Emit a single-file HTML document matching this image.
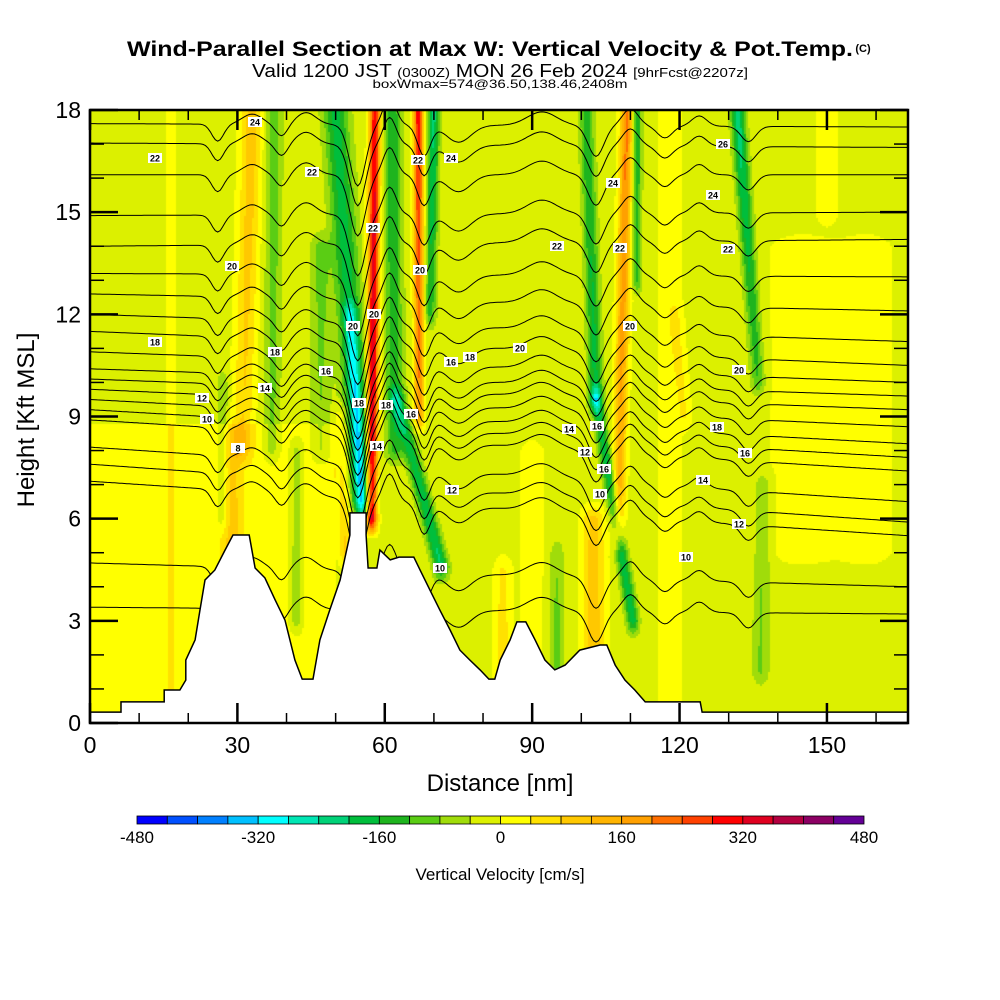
<!DOCTYPE html>
<html><head><meta charset="utf-8">
<style>
html,body{margin:0;padding:0;background:#fff;width:1000px;height:1000px;overflow:hidden}
#wrap{position:relative;width:1000px;height:1000px}
canvas{position:absolute;left:90px;top:110px}
svg{position:absolute;left:0;top:0}
text{font-family:"Liberation Sans",sans-serif}
</style></head>
<body>
<div id="wrap">
<canvas id="field" width="818" height="613"></canvas>
<svg id="ov" width="1000" height="1000">
  <text x="490" y="56" text-anchor="middle" font-size="21" font-weight="bold" textLength="726" lengthAdjust="spacingAndGlyphs">Wind-Parallel Section at Max W: Vertical Velocity &amp; Pot.Temp.</text>
  <text x="863" y="52" text-anchor="middle" font-size="11" font-weight="bold">(C)</text>
  <text x="252" y="77" font-size="18" textLength="496" lengthAdjust="spacingAndGlyphs">Valid 1200 JST <tspan font-size="13">(0300Z)</tspan> MON 26 Feb 2024 <tspan font-size="13">[9hrFcst@2207z]</tspan></text>
  <text x="500" y="88" text-anchor="middle" font-size="12" textLength="255" lengthAdjust="spacingAndGlyphs">boxWmax=574@36.50,138.46,2408m</text>
  <g id="contours"></g>
  <g id="labels"></g>
  <g id="terrain"></g>
  <g id="axes"></g>
  <text x="500" y="791" text-anchor="middle" font-size="24">Distance [nm]</text>
  <text transform="translate(34,420) rotate(-90)" text-anchor="middle" font-size="24">Height [Kft MSL]</text>
  <g id="cbar"></g>
  <text x="500" y="880" text-anchor="middle" font-size="17">Vertical Velocity [cm/s]</text>
</svg>
</div>
<script>
// ---- data ----
const levelColors=['#0000ff','#0050ff','#0080ff','#00c0ff','#00ffff','#00e6b4','#00d278','#00be3c','#1eb41e','#5acd14','#a0dc0a','#dcf000','#ffff00','#ffe100','#ffc800','#ffb400','#ffa000','#ff6e00','#ff4100','#ff0000','#e00020','#b40040','#8c0064','#640096'];
const cbarTicks=[-480,-320,-160,0,160,320,480];
const xTicks=[0,30,60,90,120,150];
const yTicks=[0,3,6,9,12,15,18];
// vertical-velocity streak features (nm, kft, cm/s)
const streakBotX=[55.4,55.5,57.3,67.0,62.0,71.5,69.3,37,31,29,52,107.5,102.5,103,110.5,111.3,136,95,136.5,16.5,150,121,84,47,27,42,118,90,145,158];
const streakBotH=[6.2,6.5,6.0,9.0,8,4.6,12,8,8,4,5,5.5,1,9.5,3.0,13,10,1.5,1.5,0,15,9,1.5,8,6,3,0,0,5,5];
const streakTopX=[53.0,50,58,66.8,61.5,62.5,70.0,37.5,33,29,51,109.3,102.5,101,103,111.3,131.8,95,137,16.5,150,119,84,47,27,42,118,90,145,158];
const streakTopH=[12,18,18,18,18,9.5,18,18,18,8.5,9,18,6,18,9.5,18,18,5,7,18,18,12,4.5,14,10,8,18,8,14,14];
const streakBotAmp=[-160,-170,400,200,-120,-190,-120,-70,90,90,100,150,130,-160,-170,-120,-110,-90,-70,25,50,50,80,-60,-60,-80,30,30,35,35];
const streakTopAmp=[-130,-160,330,320,-140,-150,-200,-90,120,60,60,230,110,-130,-160,-140,-210,-60,-60,25,50,50,60,-80,-60,-70,30,30,35,35];
const streakSigma=[0.9,1.8,0.8,0.7,1.3,1.1,0.8,1.2,1.5,1.5,1.0,0.9,1.6,1.0,0.9,0.7,1.0,1.0,1.2,1.1,1.5,1.0,1.2,1.5,0.8,1.0,2,2,5,4];
// potential temperature isentropes (kft at left / right edge)
const thetaLeft=[17.6,17.03,16.1,14.9,14.0,13.2,12.6,12.0,11.5,10.9,10.4,10.1,9.8,9.5,9.2,8.9,8.1,7.6,7.1,4.7,3.4];
const thetaRight=[17.5,16.9,16.1,15.0,14.2,13.1,12.1,11.2,10.5,10.0,9.6,9.2,8.7,8.2,7.8,7.4,6.5,5.9,5.5,4.0,3.2];
const waveX=[26,33,39,44,54.5,61,68,75,92,103,110,117,124,134];
const waveAmp=[-0.5,0.3,-0.35,0.35,-1.8,0.8,-0.9,-0.5,0.4,-0.9,0.5,-0.35,0.3,-0.45];
const waveSig=[1.2,2,1.2,2,1.6,1.3,1.3,2.5,3,1.6,1.6,1.5,1.5,1.5];
// terrain profile
const terrainX=[0,6.3,6.3,15.1,15.1,18.3,19.5,19.5,21.4,22.4,23.4,25.4,27.5,29.1,32.4,33.6,35.6,37.7,39.7,41.7,43.2,45.4,46.8,48.8,50.9,52.9,52.9,56.2,56.2,56.6,58.4,59.0,61.1,62.9,65.9,67.2,69.2,71.2,73.3,75.3,77.3,79.4,81.2,82.4,83.5,85.5,86.9,88.7,90.6,92.6,94.6,96.7,99.7,103.8,105.2,106.9,108.9,110.9,113.0,124.2,124.6,166.5];
const terrainH=[0.32,0.32,0.62,0.62,0.97,0.97,1.26,1.85,2.44,3.32,4.20,4.49,5.08,5.52,5.52,4.55,4.26,3.61,3.02,1.85,1.29,1.29,2.44,3.32,4.20,5.52,6.17,6.17,5.52,4.55,4.55,5.08,4.79,4.87,4.87,4.49,3.90,3.32,2.73,2.14,1.85,1.56,1.29,1.29,1.85,2.44,2.97,2.97,2.44,1.85,1.56,1.70,2.14,2.29,2.29,1.70,1.26,0.97,0.62,0.62,0.32,0.32];
const labelText=['22','24','22','20','18','18','16','14','12','10','8','22','20','20','18','18','16','16','18','14','12','22','24','20','12','10','20','22','24','22','20','26','24','22','20','18','16','14','12','10','14','12','16','16','10'];
const labelX=[155,255,312,232,155,275,326,265,202,207,238,373,374,353,359,386,411,451,470,377,452,418,451,420,452,440,520,557,613,620,630,723,713,728,739,717,745,703,739,686,569,585,597,604,600];
const labelY=[158,122,172,266,342,352,371,388,398,419,448,228,314,326,403,405,414,362,357,446,490,160,158,270,490,568,348,246,183,248,326,144,195,249,370,427,453,480,524,557,429,452,426,469,494];

// ---- scales ----
const X0=90,X1=908,Y0=723,Y1=110,NMAX=166.5,KMAX=18;
const xs=nm=>X0+(X1-X0)*nm/NMAX;
const ys=k=>Y0-(Y0-Y1)*k/KMAX;
const NS='http://www.w3.org/2000/svg';
function mk(tag,attrs,parent){const e=document.createElementNS(NS,tag);for(const k in attrs)e.setAttribute(k,attrs[k]);parent.appendChild(e);return e;}

// ---- field ----
function wAt(nm,k){
  let w=-15;
  if(k<8.8&&nm<50)w=20;
  for(let i=0;i<streakBotX.length;i++){
    const h0=streakBotH[i],h1=streakTopH[i];
    if(k<h0-0.6||k>h1+0.6)continue;
    let t=(k-h0)/(h1-h0);t=Math.max(0,Math.min(1,t));
    let fade=1;if(k<h0)fade=1-(h0-k)/0.6;else if(k>h1)fade=1-(k-h1)/0.6;
    const xc=streakBotX[i]+(streakTopX[i]-streakBotX[i])*t;
    const a=streakBotAmp[i]+(streakTopAmp[i]-streakBotAmp[i])*t;
    const d=(nm-xc)/streakSigma[i];
    w+=a*Math.exp(-0.5*d*d)*fade;
  }
  return w;
}
(function(){
  const cv=document.getElementById('field'),ctx=cv.getContext('2d');
  const W=cv.width,H=cv.height,img=ctx.createImageData(W,H);
  const rgb=levelColors.map(c=>[parseInt(c.substr(1,2),16),parseInt(c.substr(3,2),16),parseInt(c.substr(5,2),16)]);
  for(let py=0;py<H;py+=2){
    const k=KMAX*(1-(py+1)/H);
    for(let px=0;px<W;px+=2){
      const nm=NMAX*(px+1)/W;
      let idx=Math.floor(wAt(nm,k)/40)+12;idx=Math.max(0,Math.min(23,idx));
      const c=rgb[idx];
      for(let dy=0;dy<2&&py+dy<H;dy++)for(let dx=0;dx<2&&px+dx<W;dx++){
        const o=((py+dy)*W+px+dx)*4;img.data[o]=c[0];img.data[o+1]=c[1];img.data[o+2]=c[2];img.data[o+3]=255;}
    }
  }
  ctx.putImageData(img,0,0);
})();

// ---- contours ----
(function(){
  const g=document.getElementById('contours');
  for(let i=0;i<thetaLeft.length;i++){
    let pts=[];
    for(let nm=0;nm<=NMAX;nm+=0.5){
      let k=thetaLeft[i]+(thetaRight[i]-thetaLeft[i])*nm/NMAX;
      for(let j=0;j<waveX.length;j++){const d=(nm-waveX[j])/waveSig[j];k+=waveAmp[j]*Math.exp(-0.5*d*d);}
      k=Math.min(KMAX,Math.max(0,k));
      pts.push(xs(nm).toFixed(1)+','+ys(k).toFixed(1));
    }
    const p=mk('polyline',{points:pts.join(' '),fill:'none',stroke:'#000','stroke-width':1},g);
    
    
  }
  const lg=document.getElementById('labels');
  for(let i=0;i<labelText.length;i++){
    const r=mk('rect',{x:labelX[i]-7,y:labelY[i]-5,width:14,height:10,fill:'#fff'},lg);
    
    
    const t=mk('text',{x:labelX[i],y:labelY[i]+3.5,'text-anchor':'middle','font-size':9,'font-weight':'bold'},lg);
    
    
    t.textContent=labelText[i];
  }
})();

// ---- terrain ----
(function(){
  const g=document.getElementById('terrain');
  let d='M'+xs(0)+','+Y0;
  for(let i=0;i<terrainX.length;i++)d+=' L'+xs(terrainX[i]).toFixed(1)+','+ys(terrainH[i]).toFixed(1);
  d+=' L'+X1+','+Y0+' Z';
  const p=mk('path',{d:d,fill:'#fff',stroke:'#000','stroke-width':1.5},g);
  
  
})();

// ---- axes ----
(function(){
  const g=document.getElementById('axes');
  const b=mk('rect',{x:X0,y:Y1,width:X1-X0,height:Y0-Y1,fill:'none',stroke:'#000','stroke-width':2.5},g);
  
  
  for(let nm=0;nm<=160;nm+=10){
    const L=(nm%30===0)?20:10,x=xs(nm);
    mk('line',{x1:x,y1:Y0,x2:x,y2:Y0-L,stroke:'#000','stroke-width':nm%30===0?2.5:1.5},g);
    mk('line',{x1:x,y1:Y1,x2:x,y2:Y1+L,stroke:'#000','stroke-width':nm%30===0?2.5:1.5},g);
  }
  for(let k=0;k<=18;k++){
    const L=(k%3===0)?28:14,y=ys(k);
    mk('line',{x1:X0,y1:y,x2:X0+L,y2:y,stroke:'#000','stroke-width':k%3===0?2.5:1.5},g);
    mk('line',{x1:X1,y1:y,x2:X1-L,y2:y,stroke:'#000','stroke-width':k%3===0?2.5:1.5},g);
  }
  xTicks.forEach(v=>{const t=mk('text',{x:xs(v),y:753,'text-anchor':'middle','font-size':23},g);
    
    
    t.textContent=v;});
  yTicks.forEach(v=>{const t=mk('text',{x:81,y:ys(v)+8,'text-anchor':'end','font-size':23},g);
    
    
    t.textContent=v;});
})();

// ---- colorbar ----
(function(){
  const g=document.getElementById('cbar');
  const cx0=137,cx1=864,cy=816,ch=8,n=levelColors.length,sw=(cx1-cx0)/n;
  levelColors.forEach((c,i)=>{const r=mk('rect',{x:cx0+i*sw,y:cy,width:sw,height:ch,fill:c,stroke:'#000','stroke-width':0.8},g);
    
    });
  cbarTicks.forEach(v=>{const t=mk('text',{x:cx0+(v+480)/960*(cx1-cx0),y:843,'text-anchor':'middle','font-size':17},g);
    
    
    t.textContent=v;});
})();
</script>
</body></html>
